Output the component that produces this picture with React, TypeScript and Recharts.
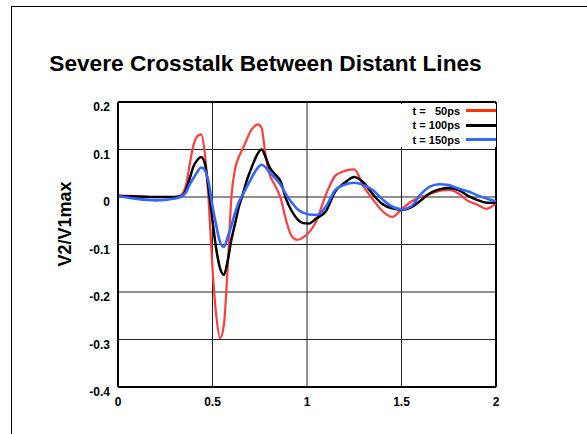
import React from "react";
import {
  LineChart,
  Line,
  XAxis,
  YAxis,
  CartesianGrid,
  ReferenceLine,
} from "recharts";

// time axis (ns) shared by the three traces
const timeNs = [
  0, 0.1, 0.2, 0.3, 0.33, 0.36, 0.38, 0.4, 0.42, 0.44, 0.46, 0.48, 0.5, 0.52,
  0.54, 0.56, 0.58, 0.6, 0.62, 0.64, 0.66, 0.68, 0.7, 0.72, 0.74, 0.76, 0.78,
  0.8, 0.83, 0.86, 0.89, 0.92, 0.95, 0.98, 1.01, 1.05, 1.1, 1.15, 1.2, 1.25,
  1.3, 1.35, 1.4, 1.45, 1.5, 1.55, 1.6, 1.65, 1.7, 1.75, 1.8, 1.85, 1.9, 1.95,
  2,
];

// V2/V1max for rise time 50ps
const v50ps = [
  0.003, 0.002, 0, 0, 0.003, 0.025, 0.07, 0.11, 0.128, 0.132, 0.09, -0.01,
  -0.15, -0.25, -0.297, -0.27, -0.15, 0, 0.06, 0.085, 0.102, 0.12, 0.138,
  0.148, 0.153, 0.145, 0.09, 0.05, 0.025, -0.002, -0.05, -0.083, -0.09, -0.085,
  -0.075, -0.05, 0.005, 0.045, 0.055, 0.058, 0.022, -0.006, -0.03, -0.042,
  -0.026, -0.01, 0, 0.006, 0.013, 0.015, 0.008, -0.008, -0.016, -0.025, -0.013,
];

// rise time 100ps
const v100ps = [
  0.002, 0.001, 0, 0, 0.001, 0.015, 0.04, 0.065, 0.078, 0.084, 0.07, 0.015,
  -0.05, -0.11, -0.15, -0.164, -0.135, -0.09, -0.055, -0.02, 0.005, 0.033,
  0.055, 0.075, 0.092, 0.1, 0.085, 0.064, 0.048, 0.033, -0.005, -0.03, -0.047,
  -0.055, -0.056, -0.045, -0.03, 0.012, 0.03, 0.042, 0.03, 0.005, -0.015,
  -0.024, -0.027, -0.022, -0.008, 0.008, 0.016, 0.019, 0.015, 0.003, -0.006,
  -0.012, -0.012,
];

// rise time 150ps
const v150ps = [
  0.002, -0.004, -0.007, -0.003, 0, 0.01, 0.027, 0.04, 0.053, 0.062, 0.056,
  0.03, -0.02, -0.06, -0.095, -0.105, -0.085, -0.06, -0.033, -0.01, 0.005,
  0.02, 0.035, 0.05, 0.062, 0.068, 0.063, 0.053, 0.04, 0.026, 0.005, -0.012,
  -0.026, -0.033, -0.037, -0.038, -0.02, 0.015, 0.026, 0.03, 0.025, 0.014,
  -0.005, -0.02, -0.026, -0.02, 0.005, 0.022, 0.027, 0.025, 0.018, 0.012,
  0.004, -0.003, -0.009,
];

const xTicks = [0, 0.5, 1, 1.5, 2];
const yTicks = [-0.4, -0.3, -0.2, -0.1, 0, 0.1, 0.2];

const legendItems = [
  { label: "t =   50ps", color: "#ff3300" },
  { label: "t = 100ps", color: "#000000" },
  { label: "t = 150ps", color: "#3366ff" },
];

const data = timeNs.map((t, i) => ({
  t,
  v50: v50ps[i],
  v100: v100ps[i],
  v150: v150ps[i],
}));

const FONT = '"Liberation Sans", Arial, sans-serif';

const XTick = (props: any) => (
  <text
    x={props.x}
    y={props.y + 19}
    textAnchor="middle"
    fontFamily={FONT}
    fontWeight="bold"
    fontSize={12}
    fill="#000"
  >
    {props.payload.value}
  </text>
);

const YTick = (props: any) => (
  <text
    x={props.x}
    y={props.y + 9}
    textAnchor="end"
    fontFamily={FONT}
    fontWeight="bold"
    fontSize={12}
    fill="#000"
  >
    {String(props.payload.value)}
  </text>
);

export default function App() {
  return (
    <div
      style={{
        position: "absolute",
        left: 0,
        top: 0,
        width: 587,
        height: 434,
        background: "#fff",
        overflow: "hidden",
      }}
    >
      <div
        style={{
          position: "absolute",
          left: 11,
          top: 6,
          width: 640,
          height: 500,
          borderLeft: "1.5px solid #000",
          borderTop: "1.5px solid #000",
        }}
      />
      <div
        style={{
          position: "absolute",
          left: 0,
          width: 531,
          top: 51.5,
          textAlign: "center",
          fontFamily: FONT,
          fontWeight: "bold",
          fontSize: 22.7,
          lineHeight: "22.7px",
          whiteSpace: "nowrap",
        }}
      >
        Severe Crosstalk Between Distant Lines
      </div>
      <div
        style={{
          position: "absolute",
          left: 5,
          top: 214,
          width: 120,
          height: 20,
          lineHeight: "20px",
          textAlign: "center",
          transform: "rotate(-90deg)",
          fontFamily: FONT,
          fontWeight: "bold",
          fontSize: 18,
        }}
      >
        V2/V1max
      </div>
      <LineChart
        width={587}
        height={434}
        data={data}
        margin={{ top: 102, right: 91, left: 78, bottom: 27 }}
        style={{ position: "absolute", left: 0, top: 0 }}
      >
        <CartesianGrid stroke="#222" strokeWidth={1} />
        <XAxis
          dataKey="t"
          type="number"
          domain={[0, 2]}
          ticks={xTicks}
          tickSize={0}
          tickMargin={0}
          height={20}
          tick={<XTick />}
          axisLine={{ stroke: "#000", strokeWidth: 2 }}
          tickLine={false}
        />
        <YAxis
          type="number"
          domain={[-0.4, 0.2]}
          ticks={yTicks}
          tickSize={0}
          tickMargin={8}
          width={40}
          tick={<YTick />}
          axisLine={{ stroke: "#000", strokeWidth: 2 }}
          tickLine={false}
          allowDataOverflow
        />
        <ReferenceLine y={0.2} stroke="#000" strokeWidth={2} />
        <ReferenceLine x={2} stroke="#000" strokeWidth={2} />
        <Line
          dataKey="v50"
          type="monotone"
          stroke="#ff3b3b"
          strokeWidth={2.2}
          dot={false}
          isAnimationActive={false}
        />
        <Line
          dataKey="v100"
          type="monotone"
          stroke="#000"
          strokeWidth={2.5}
          dot={false}
          isAnimationActive={false}
        />
        <Line
          dataKey="v150"
          type="monotone"
          stroke="#3366ff"
          strokeWidth={2.6}
          dot={false}
          isAnimationActive={false}
        />
      </LineChart>
      <div
        style={{
          position: "absolute",
          left: 376,
          top: 103.5,
          width: 120,
          fontFamily: FONT,
          fontWeight: "bold",
          fontSize: 11,
          background: "#fff",
        }}
      >
        {legendItems.map((item) => (
          <div
            key={item.label}
            style={{
              display: "flex",
              alignItems: "center",
              justifyContent: "flex-end",
              height: 14.5,
            }}
          >
            <span style={{ whiteSpace: "pre" }}>{item.label}</span>
            <span
              style={{
                display: "inline-block",
                width: 30,
                height: 3,
                marginLeft: 6,
                background: item.color,
              }}
            />
          </div>
        ))}
      </div>
    </div>
  );
}
